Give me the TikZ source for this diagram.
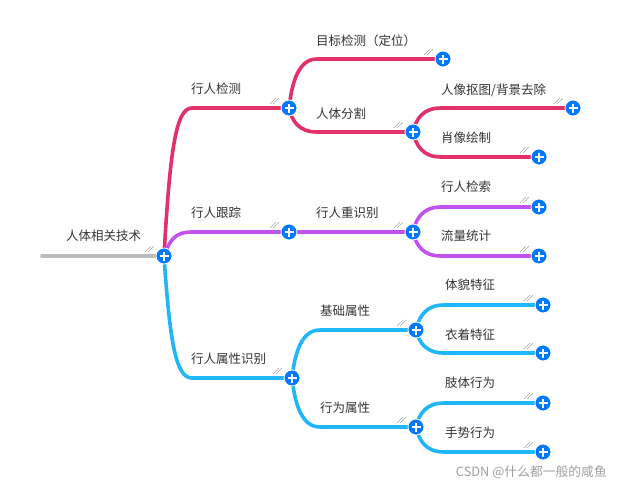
\documentclass[tikz,border=0pt]{standalone}
\usepackage{fontspec}
\newfontfamily\cjk{Noto Sans CJK SC}
\usetikzlibrary{calc}
\pgfdeclarelayer{bg}
\pgfsetlayers{bg,main}
\definecolor{cred}{RGB}{226,48,104}
\definecolor{cpurple}{RGB}{193,82,240}
\definecolor{cblue}{RGB}{31,182,250}
\definecolor{cbtn}{RGB}{0,120,255}
\definecolor{cgray}{RGB}{187,187,187}
\definecolor{ctext}{RGB}{51,51,51}
\tikzset{
 btn/.style={circle, fill=cbtn, draw=white, line width=0.8pt, minimum size=16pt, inner sep=0pt,
   path picture={\draw[white,line width=2.4pt] ($(path picture bounding box.center)+(-4.5,0)$) -- ++(9,0)
       ($(path picture bounding box.center)+(0,-4.5)$) -- ++(0,9);}},
 lbl/.style={anchor=west, inner sep=0pt, text=ctext, font=\cjk\fontsize{12.5}{15}\selectfont},
 branch/.style={line width=3.6pt, line cap=round, draw=#1},
 hashmk/.style={draw=gray!70, line width=0.5pt},
}
\newcommand\mmlink[6]{%
 \draw[branch=#1] (#2.center) .. controls ($(#2.center)!#4!(#2.center|-#3.center)+(#5,0)$) and ($(#2.center|-#3.center)+(#6,0)$) .. ($(#2.center|-#3.center)+(28,0)$) -- (#3.center);}
\newcommand\hmk[1]{\draw[hashmk] ($(#1.center)+(-19,-4)$) -- ++(6,-6) ($(#1.center)+(-16,-4)$) -- ++(6,-6);}
\begin{document}
\begin{tikzpicture}[x=1pt,y=-1pt]
\useasboundingbox (0,0) rectangle (623,490);
% buttons
\node[btn] (R) at (164,256) {};
\node[btn] (A) at (289,108) {};
\node[btn] (B) at (289,232) {};
\node[btn] (C) at (292,378) {};
\node[btn] (A1) at (443,59) {};
\node[btn] (A2) at (413,132) {};
\node[btn] (A21) at (573,108) {};
\node[btn] (A22) at (539,157) {};
\node[btn] (B1) at (413,232) {};
\node[btn] (B11) at (539,207) {};
\node[btn] (B12) at (539,256) {};
\node[btn] (C1) at (416,330) {};
\node[btn] (C2) at (416,427) {};
\node[btn] (C11) at (543,305) {};
\node[btn] (C12) at (543,353) {};
\node[btn] (C21) at (543,403) {};
\node[btn] (C22) at (543,452) {};
\coordinate (S) at (42,256);
% labels
\node[lbl] (tR) at (66,236) {人体相关技术};
\node[lbl] (tA) at (191,89) {行人检测};
\node[lbl] (tB) at (191,213) {行人跟踪};
\node[lbl] (tC) at (191,359) {行人属性识别};
\node[lbl] (tA1) at (316,41) {目标检测（定位）};
\node[lbl] (tA2) at (316,114) {人体分割};
\node[lbl] (tA21) at (441,90) {人像抠图/背景去除};
\node[lbl] (tA22) at (441,138) {肖像绘制};
\node[lbl] (tB1) at (316,213) {行人重识别};
\node[lbl] (tB11) at (441,187) {行人检索};
\node[lbl] (tB12) at (441,236) {流量统计};
\node[lbl] (tC1) at (320,311) {基础属性};
\node[lbl] (tC2) at (320,408) {行为属性};
\node[lbl] (tC11) at (445,285) {体貌特征};
\node[lbl] (tC12) at (445,335) {衣着特征};
\node[lbl] (tC21) at (445,383) {肢体行为};
\node[lbl] (tC22) at (445,433) {手势行为};
\node[anchor=east, inner sep=0pt, text=gray!75, font=\cjk\fontsize{12.8}{14}\selectfont] (wm) at (607,472) {CSDN @什么都一般的咸鱼};
% connectors
\begin{pgfonlayer}{bg}
\draw[branch=cgray] (S) -- (R.center);
\mmlink{cred}{R}{A}{0.72}{6}{12}
\mmlink{cpurple}{R}{B}{0.72}{6}{12}
\mmlink{cblue}{R}{C}{0.72}{6}{12}
\mmlink{cred}{A}{A1}{0.55}{3}{10}
\mmlink{cred}{A}{A2}{0.55}{3}{10}
\mmlink{cred}{A2}{A21}{0.55}{3}{10}
\mmlink{cred}{A2}{A22}{0.55}{3}{10}
\draw[branch=cpurple] (B.center) -- (B1.center);
\mmlink{cpurple}{B1}{B11}{0.55}{3}{10}
\mmlink{cpurple}{B1}{B12}{0.55}{3}{10}
\mmlink{cblue}{C}{C1}{0.55}{3}{10}
\mmlink{cblue}{C}{C2}{0.55}{3}{10}
\mmlink{cblue}{C1}{C11}{0.55}{3}{10}
\mmlink{cblue}{C1}{C12}{0.55}{3}{10}
\mmlink{cblue}{C2}{C21}{0.55}{3}{10}
\mmlink{cblue}{C2}{C22}{0.55}{3}{10}
\end{pgfonlayer}
% hash marks
\foreach \n in {R,A,B,C,A1,A2,A21,A22,B1,B11,B12,C1,C2,C11,C12,C21,C22} {\hmk{\n}}
\end{tikzpicture}
\end{document}
